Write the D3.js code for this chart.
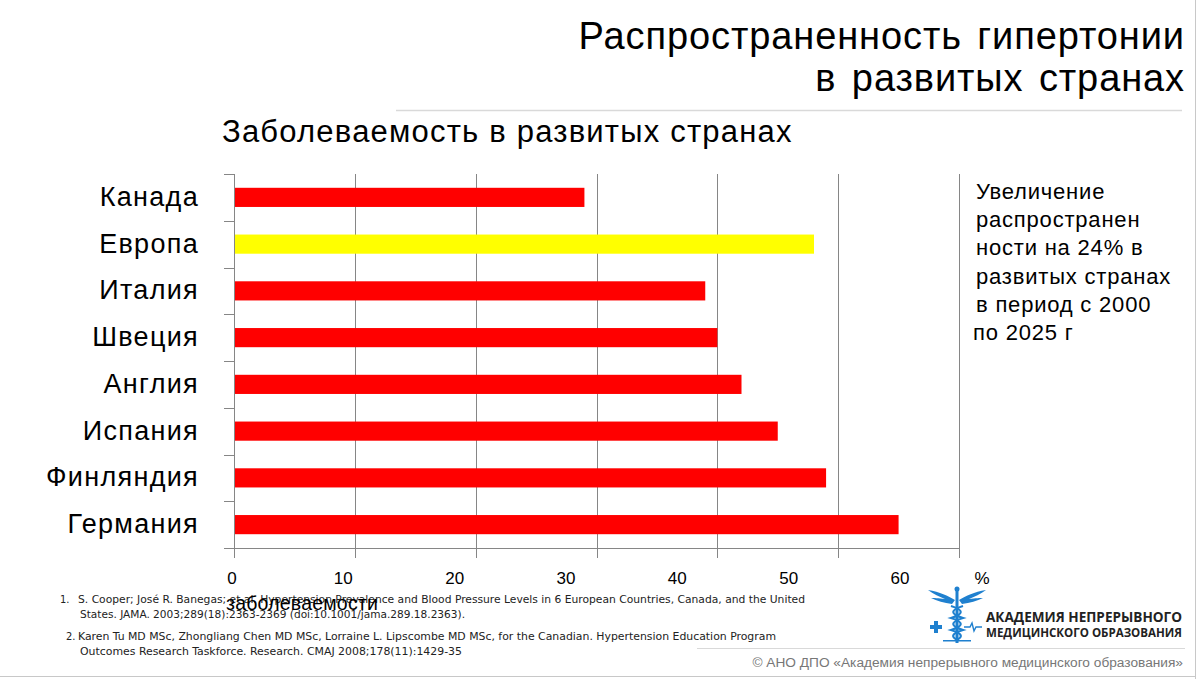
<!DOCTYPE html>
<html><head><meta charset="utf-8">
<script src="https://cdn.jsdelivr.net/npm/d3@7"></script>
<style>
html,body{margin:0;padding:0;background:#fff;}
svg{display:block;font-family:"Liberation Sans",Arial,sans-serif;}
</style></head>
<body>
<svg id="c" width="1198" height="679"></svg>
<script>
const categories = ["Канада","Европа","Италия","Швеция","Англия","Испания","Финляндия","Германия"];
const values = [29, 48, 39, 40, 42, 45, 49, 55];
const barColors = ["#ff0000","#ffff00","#ff0000","#ff0000","#ff0000","#ff0000","#ff0000","#ff0000"];
const xTicks = [0,10,20,30,40,50,60];
const xTickLabels = ["0","10","20","30","40","50","60"];
const titleLines = ["Распространенность гипертонии","в развитых странах"];
const subtitle = "Заболеваемость в развитых странах";
const noteLines = ["Увеличение","распространен","ности на 24% в","развитых странах","в период с 2000","по 2025 г"];
const references = [
  ["S. Cooper; José R. Banegas; et al. Hypertension Prevalence and Blood Pressure Levels in 6 European Countries, Canada, and the United","States. JAMA.  2003;289(18):2363-2369 (doi:10.1001/jama.289.18.2363)."],
  ["Karen Tu MD MSc,  Zhongliang Chen MD MSc,  Lorraine L. Lipscombe MD MSc,  for the Canadian. Hypertension Education Program","Outcomes Research Taskforce. Research. CMAJ 2008;178(11):1429-35"]
];

const svg = d3.select("#c");
const W = 1198, H = 679;

// frame
svg.append("line").attr("x1",1195.5).attr("x2",1195.5).attr("y1",0).attr("y2",H).attr("stroke","#c8c8c8");
svg.append("line").attr("x1",0).attr("x2",1196).attr("y1",676.5).attr("y2",676.5).attr("stroke","#c8c8c8");

// title
titleLines.forEach((t,i)=>{
  svg.append("text").attr("x",1185).attr("y",49+i*42).attr("text-anchor","end")
    .attr("font-size",38).attr("letter-spacing",0.9).attr("word-spacing",4).attr("fill","#000").text(t);
});
svg.append("line").attr("x1",396).attr("x2",1182).attr("y1",110.5).attr("y2",110.5).attr("stroke","#d9d9d9").attr("stroke-width",1.5);

svg.append("text").attr("x",222).attr("y",142).attr("font-size",31).attr("letter-spacing",1.2).attr("fill","#000").text(subtitle);

// scales
const x = d3.scaleLinear().domain([0,60]).range([234,959]);
const y = d3.scaleBand().domain(categories).range([174,548]).paddingInner(0.59).paddingOuter(0.295);
const yb = d3.scaleLinear().domain([0,categories.length]).range([174,548]);
const xl = d3.scaleLinear().domain([0,60]).range([232,900]);
const gridColor = "#868686";

// gridlines
svg.append("g").selectAll("line").data(xTicks.filter(d=>d>0)).join("line")
  .attr("x1",d=>Math.round(x(d))+0.5).attr("x2",d=>Math.round(x(d))+0.5)
  .attr("y1",174).attr("y2",548).attr("stroke",gridColor).attr("stroke-width",1);

// bars
svg.append("g").selectAll("rect").data(categories).join("rect")
  .attr("x",x(0)).attr("y",d=>y(d))
  .attr("width",(d,i)=>x(values[i])-x(0)).attr("height",y.bandwidth())
  .attr("fill",(d,i)=>barColors[i]);

// left axis line + boundary ticks
svg.append("line").attr("x1",234.5).attr("x2",234.5).attr("y1",174).attr("y2",548).attr("stroke",gridColor);
svg.append("g").selectAll("line").data(d3.range(categories.length+1)).join("line")
  .attr("x1",224).attr("x2",234).attr("y1",d=>Math.round(yb(d))+0.5).attr("y2",d=>Math.round(yb(d))+0.5)
  .attr("stroke",gridColor);
// category labels
svg.append("g").selectAll("text").data(categories).join("text")
  .attr("x",199).attr("y",d=>y(d)+y.bandwidth()/2 - 1).attr("dy","0.35em")
  .attr("text-anchor","end").attr("font-size",27).attr("letter-spacing",1.3).attr("fill","#000").text(d=>d);

// bottom axis
svg.append("line").attr("x1",224).attr("x2",959).attr("y1",548.5).attr("y2",548.5).attr("stroke",gridColor);
svg.append("g").selectAll("line").data(xTicks).join("line")
  .attr("x1",d=>Math.round(x(d))+0.5).attr("x2",d=>Math.round(x(d))+0.5)
  .attr("y1",548).attr("y2",558).attr("stroke",gridColor);
svg.append("g").selectAll("text").data(xTicks).join("text")
  .attr("x",d=>xl(d)).attr("y",584).attr("text-anchor","middle")
  .attr("font-size",17).attr("fill","#000").text((d,i)=>xTickLabels[i]);
svg.append("text").attr("x",982).attr("y",584).attr("text-anchor","middle").attr("font-size",17).attr("fill","#000").text("%");

// references
const refFont = "'Liberation Sans Narrow','Arial Narrow','DejaVu Sans Condensed',sans-serif";
const refY = [[603,618],[640,655]];
const refLen = [[727,385],[698,382]];
references.forEach((r,i)=>{
  svg.append("text").attr("x",i===0?60:66).attr("y",refY[i][0]).attr("font-size",11).attr("font-family",refFont).attr("fill","#222").text((i+1)+".");
  r.forEach((line,j)=>{
    svg.append("text").attr("x",j===0?78:80).attr("y",refY[i][j]).attr("font-size",11).attr("font-family",refFont)
      .attr("fill","#222").attr("textLength",refLen[i][j]).attr("lengthAdjust","spacingAndGlyphs").text(line);
  });
});
// axis title (overlaps references as in the original)
svg.append("text").attr("x",226).attr("y",610).attr("font-size",19.5).attr("letter-spacing",0.2).attr("fill","#000").text("заболеваемости");

// note on the right
noteLines.forEach((t,i)=>{
  svg.append("text").attr("x",i===5?973:976).attr("y",199+i*28.2).attr("font-size",22).attr("letter-spacing",0.8).attr("fill","#000").text(t);
});

// logo
const blue = "#1f80cf";
const lg = svg.append("g").attr("fill",blue).attr("stroke","none");
lg.append("path").attr("d","M955,600 C948,596 940,592 928,590 C933,594 940,597 945,599 C938,598 934,598 931,598 C937,601 944,603 952,604 Z");
lg.append("path").attr("d","M959,600 C966,596 974,592 986,590 C981,594 974,597 969,599 C976,598 980,598 983,598 C977,601 970,603 962,604 Z");
lg.append("rect").attr("x",955.5).attr("y",589).attr("width",3).attr("height",54);
lg.append("circle").attr("cx",957).attr("cy",589).attr("r",2.5);
lg.append("path").attr("fill","none").attr("stroke",blue).attr("stroke-width",2.2)
  .attr("d","M951,606 C964,610 964,614 951,618 C964,622 964,626 951,630 C964,634 962,637 957,640");
lg.append("path").attr("fill","none").attr("stroke",blue).attr("stroke-width",2.2)
  .attr("d","M963,606 C950,610 950,614 963,618 C950,622 950,626 963,630 C950,634 952,637 957,640");
lg.append("rect").attr("x",934).attr("y",621).attr("width",4).attr("height",12);
lg.append("rect").attr("x",930).attr("y",625).attr("width",12).attr("height",4);
lg.append("path").attr("fill","none").attr("stroke",blue).attr("stroke-width",1.4)
  .attr("d","M964,627 L970,627 L972,623 L974,631 L976,627 L982,627");
lg.append("rect").attr("x",943).attr("y",640).attr("width",28).attr("height",1.5);

svg.append("text").attr("x",986).attr("y",622).attr("font-family","'Open Sans',Inter,sans-serif").attr("font-weight",700)
  .attr("font-size",14).attr("fill","#222").attr("textLength",196).attr("lengthAdjust","spacingAndGlyphs").text("АКАДЕМИЯ НЕПРЕРЫВНОГО");
svg.append("text").attr("x",986).attr("y",637).attr("font-family","'Open Sans',Inter,sans-serif").attr("font-weight",700)
  .attr("font-size",13).attr("fill","#222").attr("textLength",196).attr("lengthAdjust","spacingAndGlyphs").text("МЕДИЦИНСКОГО ОБРАЗОВАНИЯ");

// copyright
svg.append("line").attr("x1",697).attr("x2",1185).attr("y1",648.5).attr("y2",648.5).attr("stroke","#d9d9d9");
svg.append("text").attr("x",1183).attr("y",667).attr("text-anchor","end").attr("font-size",13.7).attr("fill","#777")
  .text("© АНО ДПО «Академия непрерывного медицинского образования»");
</script>
</body></html>
